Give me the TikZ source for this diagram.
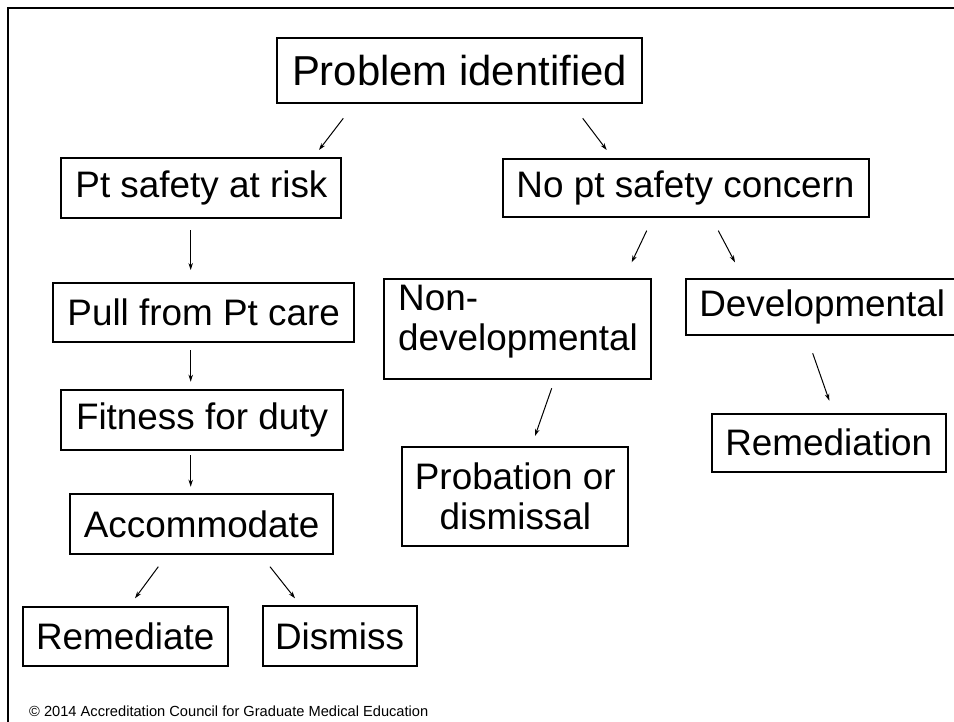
\documentclass[tikz,border=0pt]{standalone}
\usepackage{fontspec}
\setmainfont{Liberation Sans}
\usetikzlibrary{arrows.meta}
\begin{document}
\begin{tikzpicture}[x=1bp,y=-1bp,
  box/.style={draw, line width=2bp, inner sep=0pt, font=\fontsize{37}{40}\selectfont},
  txt/.style={inner sep=0pt, font=\fontsize{37}{40}\selectfont},
  arr/.style={line width=1bp, -{Stealth[length=7bp,width=4.5bp]}}]
\clip (0,0) rectangle (954,722);
\fill[white] (0,0) rectangle (954,722);
\draw[line width=2bp] (8,722) -- (8,8) -- (954,8);

% boxes
\node[box, font=\fontsize{42}{46}\selectfont, minimum width=365bp, minimum height=65bp] (prob) at (459.5,70.5) {Problem identified};
\node[box, minimum width=280bp, minimum height=59bp] (pts) at (201.4,188) {Pt safety at risk};
\node[box, minimum width=366bp, minimum height=58bp] (nopt) at (685.5,188) {No pt safety concern};
\node[box, minimum width=301bp, minimum height=59bp] (pull) at (203.7,312.8) {Pull from Pt care};
\node[box, minimum width=281bp, minimum height=60bp] (fit) at (202,420) {Fitness for duty};
\node[box, minimum width=263bp, minimum height=60bp] (acc) at (201.7,524.2) {Accommodate};
\node[box, minimum width=205bp, minimum height=59bp] (rem) at (125.2,636.2) {Remediate};
\node[box, minimum width=154bp, minimum height=60bp] (dis) at (339.5,636) {Dismiss};
\node[box, minimum width=267.5bp, minimum height=100bp] (nondev) at (517.7,329.4) {};
\node[txt, anchor=north west, align=left] (nondevtxt) at (398,285.2) {Non-\\developmental};
\node[box, align=center, minimum width=226bp, minimum height=99bp] (probat) at (515.3,496.3) {Probation or\\dismissal};
\node[box, anchor=west, text width=262bp, align=left, inner xsep=13.3bp, minimum height=56bp] (dev) at (685,307.2) {Developmental};
\node[box, minimum width=234bp, minimum height=58bp] (remed) at (828.8,442.5) {Remediation};

\node[anchor=base west, inner sep=0pt, font=\fontsize{14.7}{16}\selectfont] (copy) at (29,716) {© 2014 Accreditation Council for Graduate Medical Education};

% connector end points
\coordinate (a1s) at (343.3,118.3); \coordinate (a1e) at (319,150);
\coordinate (a2s) at (582.7,118.3); \coordinate (a2e) at (606.7,150);
\coordinate (a3s) at (190.7,230);   \coordinate (a3e) at (190.7,270);
\coordinate (a4s) at (190.7,350);   \coordinate (a4e) at (190.7,381.7);
\coordinate (a5s) at (190.7,455);   \coordinate (a5e) at (190.7,486.7);
\coordinate (a6s) at (158.3,566.7); \coordinate (a6e) at (135,598.3);
\coordinate (a7s) at (270,566.7);   \coordinate (a7e) at (295,598.3);
\coordinate (a8s) at (646.7,230.7); \coordinate (a8e) at (631.7,262.3);
\coordinate (a9s) at (718.3,230.7); \coordinate (a9e) at (735,262.3);
\coordinate (a10s) at (551.7,388.3); \coordinate (a10e) at (535,436);
\coordinate (a11s) at (812.7,353.3); \coordinate (a11e) at (829.3,400.7);

\draw[arr] (a1s) -- (a1e);
\draw[arr] (a2s) -- (a2e);
\draw[arr] (a3s) -- (a3e);
\draw[arr] (a4s) -- (a4e);
\draw[arr] (a5s) -- (a5e);
\draw[arr] (a6s) -- (a6e);
\draw[arr] (a7s) -- (a7e);
\draw[arr] (a8s) -- (a8e);
\draw[arr] (a9s) -- (a9e);
\draw[arr] (a10s) -- (a10e);
\draw[arr] (a11s) -- (a11e);
\end{tikzpicture}
\end{document}
